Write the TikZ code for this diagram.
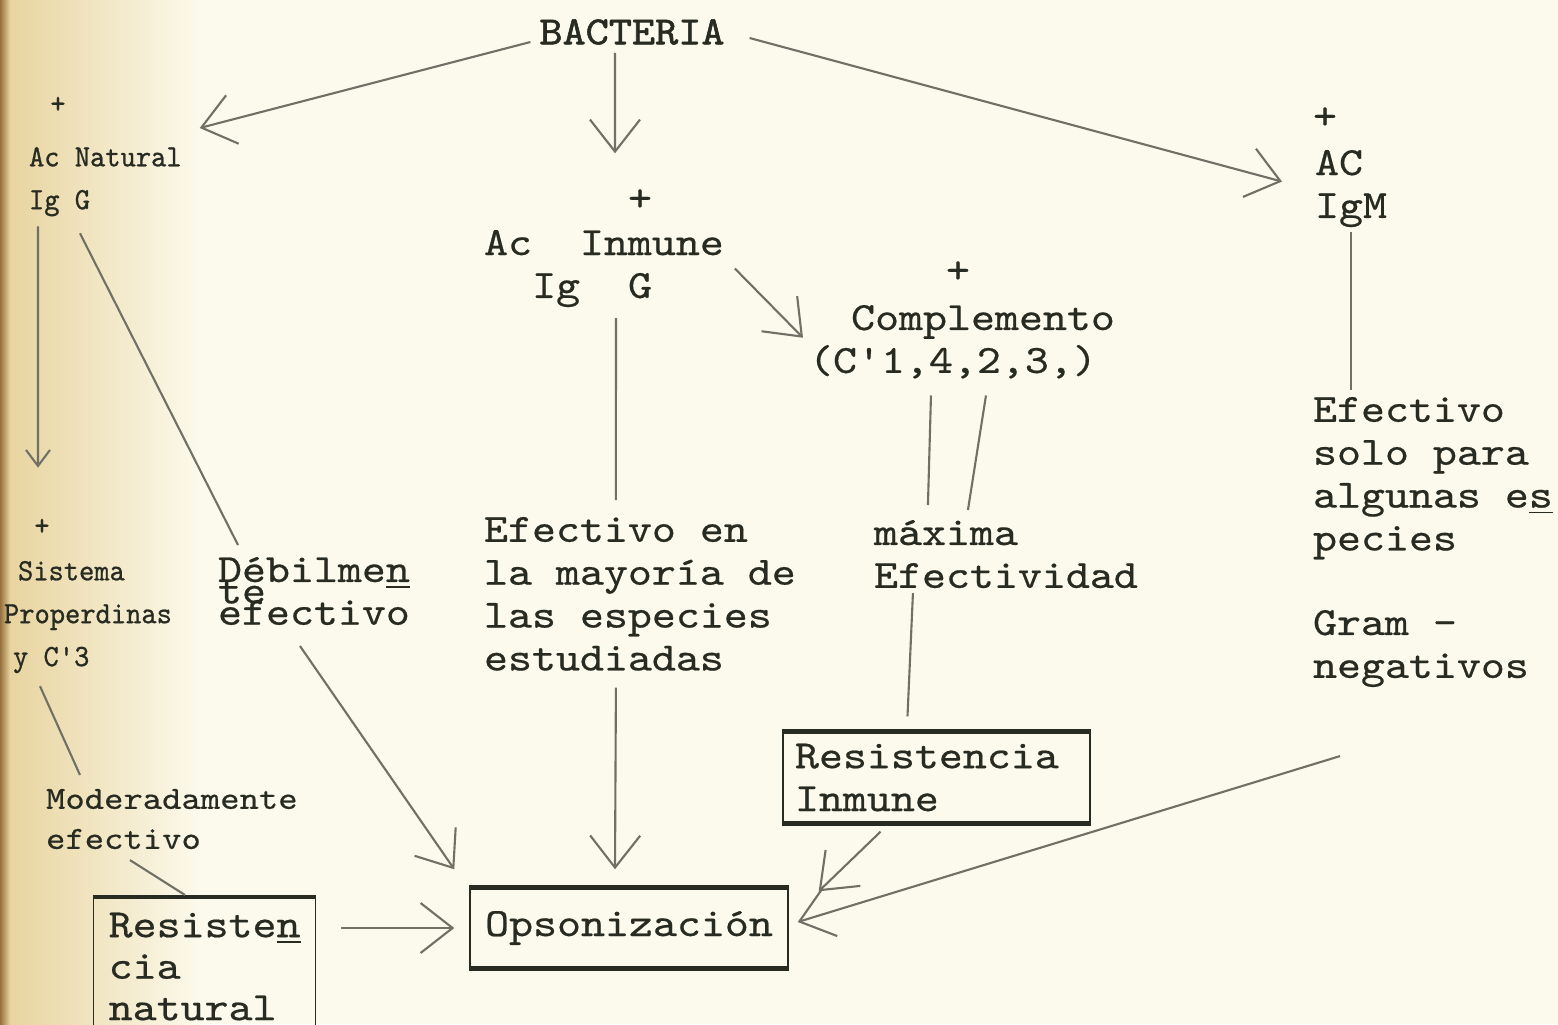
\documentclass[tikz,border=0pt]{standalone}
\usepackage{fontspec}
\newfontfamily\typefont[FakeStretch=1.14,FakeBold=0.5]{lmmono10-regular.otf}
\newfontfamily\headfont[FakeStretch=1.1,FakeBold=1.4]{lmmono10-regular.otf}
\newfontfamily\narrowfont[FakeStretch=0.94,FakeBold=0.8]{lmmono10-regular.otf}
\usetikzlibrary{arrows.meta}
\definecolor{paper}{RGB}{252,250,236}
\definecolor{tan}{RGB}{150,112,60}
\definecolor{tanlight}{RGB}{232,212,160}
\definecolor{ink}{RGB}{40,43,34}
\definecolor{pencil}{RGB}{112,112,102}

\begin{document}
\begin{tikzpicture}[every path/.style={line width=0.6pt},
    txt/.style={inner sep=0pt,anchor=north west,align=left,text=ink,
      font=\typefont\fontsize{11.4}{12.2}\selectfont},
    nartxt/.style={txt,font=\narrowfont\fontsize{8.8}{12.2}\selectfont},
    modtxt/.style={txt,font=\typefont\fontsize{9.2}{11.4}\selectfont},
    plus/.style={txt,anchor=center},
    plussm/.style={nartxt,anchor=center},
    box/.style={draw=ink,line width=0.4pt,align=left,text=ink,
      font=\typefont\fontsize{11.4}{12.2}\selectfont},
    heavy/.style={draw=ink,line width=1.3pt},
    ln/.style={draw=pencil},
    arr/.style={draw=pencil,-{Straight Barb[length=3.2mm,width=5mm]}},
    arrsm/.style={draw=pencil,-{Straight Barb[length=1.6mm,width=2.4mm]}}]
  \useasboundingbox (0,0) rectangle (15.58,-10.24);
  \fill[paper] (0,0) rectangle (15.58,-10.24);
  \shade[left color=tanlight,right color=paper] (0.1,0) rectangle (2.0,-10.24);
  \shade[left color=tan,right color=tanlight] (0,0) rectangle (0.1,-10.24);

  \node[plus,font=\headfont\fontsize{11.4}{12.2}\selectfont] (bact) at (6.32,-0.32) {BACTERIA};
  \node[plussm] (plusA) at (0.58,-1.05) {+};
  \node[nartxt] (acnat) at (0.28,-1.46) {Ac Natural\\Ig G};
  \node[plus] (plusB) at (6.40,-2.00) {+};
  \node[txt] (inmune) at (4.83,-2.29) {Ac~~Inmune\\\hspace*{1.2em}Ig~~G};
  \node[plus] (plusC) at (9.58,-2.72) {+};
  \node[txt] (comp) at (8.08,-3.04) {\hspace*{1.05em}Complemento\\(C'1,4,2,3,)};
  \node[plus] (plusD) at (13.25,-1.18) {+};
  \node[txt] (acm) at (13.14,-1.49) {AC\\IgM};
  \node[txt] (efsolo) at (13.12,-3.96) {Efectivo\\solo para\\algunas e\underline{s}\\pecies};
  \node[txt] (neg) at (13.12,-6.09) {Gram -\\negativos};
  \node[plussm] (plusE) at (0.42,-5.27) {+};
  \node[nartxt] (sist) at (0.03,-5.60) {\hspace*{0.14cm}Sistema\\Properdinas\\\hspace*{0.09cm}y C'3};
  \node[txt] (debil) at (2.17,-5.56) {Débilme\underline{n}\\[-0.215cm]te\\[-0.215cm]efectivo};
  \node[txt] (efen) at (4.83,-5.16) {Efectivo en\\la mayoría de\\las especies\\estudiadas};
  \node[txt] (max) at (8.73,-5.19) {máxima\\Efectividad};
  \node[modtxt] (mod) at (0.45,-7.88) {Moderadamente\\efectivo};
  \node[box,anchor=north west,text width=1.92cm,inner xsep=1.5mm,inner ysep=1.5mm,
    font=\typefont\fontsize{11.4}{11.8}\selectfont] (resnat) at (0.93,-8.97) {Resiste\underline{n}\\cia\\natural};
  \node[box,minimum width=3.18cm,minimum height=0.80cm] (opson) at (6.29,-9.28) {Opsonización};
  \node[box,text width=2.83cm,inner xsep=1.2mm,minimum height=0.89cm] (resinm) at (9.365,-7.775) {Resistencia\\Inmune};

  \draw[heavy] (opson.north west) -- (opson.north east);
  \draw[heavy] (opson.south west) -- (opson.south east);
  \draw[heavy] (resinm.north west) -- (resinm.north east);
  \draw[heavy] (resinm.south west) -- (resinm.south east);
  \draw[heavy] (resnat.north west) -- (resnat.north east);

  \draw[arr] ([xshift=-0.8mm,yshift=-1mm]bact.west) -- ([xshift=1.7mm,yshift=1.8mm]acnat.north east);
  \draw[arr] ([xshift=-1.7mm,yshift=-0.7mm]bact.south) -- ([xshift=-2.5mm,yshift=3.5mm]plusB.north);
  \draw[arr] ([xshift=2.4mm,yshift=-0.6mm]bact.east) -- ([xshift=-3.2mm,yshift=0.7mm]acm.west);
  \draw[arrsm] ([xshift=1mm,yshift=-0.9mm]acnat.south west) -- ([xshift=-0.4mm,yshift=5mm]plusE.north);
  \draw[ln] ([xshift=5.2mm,yshift=-1.6mm]acnat.south west) -- ([xshift=2.1mm,yshift=1.1mm]debil.north west);
  \draw[arr] ([xshift=1mm]inmune.east) -- ([xshift=-0.5mm,yshift=0.4mm]comp.west);
  \draw[ln] ([xshift=1.2mm,yshift=-1mm]inmune.south) -- ([xshift=-2.4mm,yshift=1.6mm]efen.north);
  \draw[ln] ([xshift=-3.1mm,yshift=-1.6mm]comp.south) -- ([xshift=-7.8mm,yshift=1.4mm]max.north);
  \draw[ln] ([xshift=2.4mm,yshift=-1.6mm]comp.south) -- ([xshift=-3.8mm,yshift=0.9mm]max.north);
  \draw[ln] ([yshift=-0.4mm]acm.south) -- ([yshift=0.6mm]efsolo.north -| acm.south);
  \draw[ln] ([xshift=3.7mm,yshift=-1.2mm]sist.south west) -- ([xshift=3.5mm,yshift=1.3mm]mod.north west);
  \draw[ln] ([xshift=8.5mm,yshift=-1mm]mod.south west) -- ([xshift=9.2mm,yshift=0.2mm]resnat.north west);
  \draw[arr] ([xshift=8.3mm,yshift=-2mm]debil.south west) -- ([xshift=-1.5mm,yshift=1.8mm]opson.north west);
  \draw[arr] ([xshift=-2.4mm,yshift=-1.6mm]efen.south) -- ([xshift=-1.4mm,yshift=1.8mm]opson.north);
  \draw[ln] ([xshift=-9.3mm,yshift=-0.4mm]max.south) -- ([xshift=-2.9mm,yshift=1.5mm]resinm.north);
  \draw[arr] ([xshift=-5.6mm,yshift=-0.8mm]resinm.south) -- ([xshift=3mm,yshift=-0.4mm]opson.north east);
  \draw[arr] ([xshift=2.8mm,yshift=-6.8mm]neg.south west) -- ([xshift=0.9mm,yshift=0.6mm]opson.east);
  \draw[arr] ([xshift=2.5mm]opson.west -| resnat.east) -- ([xshift=-1.5mm]opson.west);
\end{tikzpicture}
\end{document}
